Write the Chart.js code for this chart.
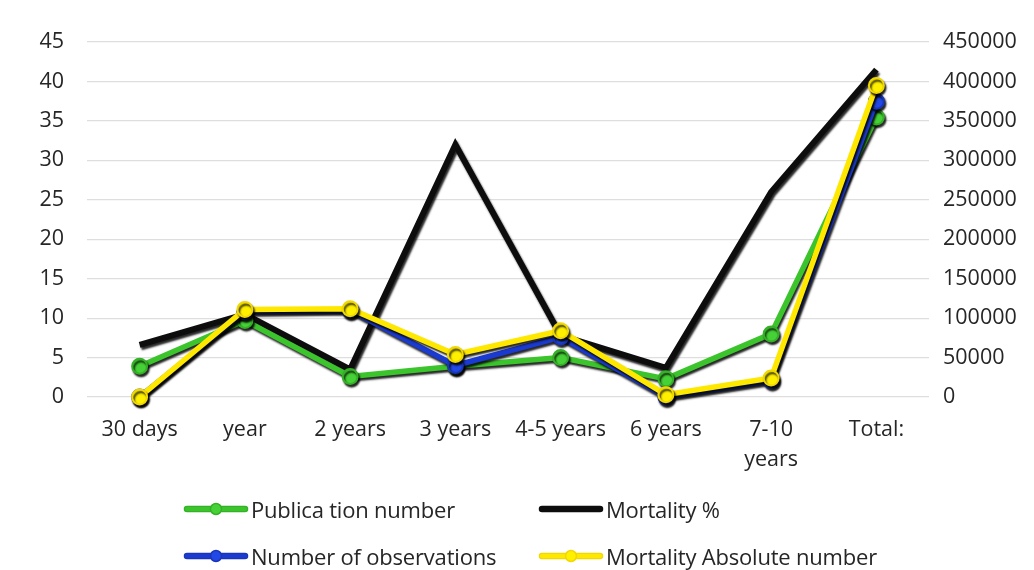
<!DOCTYPE html>
<html>
<head>
<meta charset="utf-8">
<script src="https://cdn.jsdelivr.net/npm/chart.js@4/dist/chart.umd.min.js"></script>
<style>
  html, body { margin: 0; padding: 0; background: #ffffff; }
  #wrap { position: relative; width: 1034px; height: 570px; }
  #c { position: absolute; left: 0; top: 0; }
  .leg { position: absolute; height: 30px; display: flex; align-items: center;
         font-family: "Open Sans", sans-serif; font-size: 22px; color: #262626; white-space: nowrap; letter-spacing: -0.2px; }
  .leg svg { margin-right: 2px; }
</style>
</head>
<body>
<div id="wrap">
  <canvas id="c" width="1034" height="570"></canvas>
  <div id="legend"></div>
</div>
<script>
// Follow-up periods
const categories = ['30 days', 'year', '2 years', '3 years', '4-5 years', '6 years', ['7-10', 'years'], 'Total:'];

// Left axis series
const publicationNumber = [3.9, 9.7, 2.6, 3.9, 5.0, 2.3, 8.0, 35.5];
const mortalityPercent  = [6.6, 10.5, 3.5, 32, 7.8, 3.7, 26, 41.5];

// Right axis series
const observations      = [0, 108000, 110000, 40000, 76000, 0, 21000, 375000];
const mortalityAbsolute = [0, 111000, 112000, 54000, 84000, 3000, 24000, 395000];

// Axis ticks
const leftTicks  = [0, 5, 10, 15, 20, 25, 30, 35, 40, 45];
const rightTicks = [0, 50000, 100000, 150000, 200000, 250000, 300000, 350000, 400000, 450000];

const FONT = { family: '"Open Sans", sans-serif', size: 21.5, lineHeight: 1.4 };
const TEXT = '#262626';

// Soft dark drop shadow under each series line
const shadowPlugin = {
  id: 'lineShadow',
  beforeDatasetDraw(chart) {
    const ctx = chart.ctx;
    ctx.save();
    ctx.shadowColor = 'rgba(0,0,0,0.85)';
    ctx.shadowOffsetX = 1.5;
    ctx.shadowOffsetY = 2.5;
    ctx.shadowBlur = 2;
  },
  afterDatasetDraw(chart) {
    chart.ctx.restore();
  }
};

const series = [
  { label: 'Mortality %', data: mortalityPercent, axis: 'y', line: '#0d0d0d', fill: '#0d0d0d', edge: '#0d0d0d', marker: false, width: 6, order: 4 },
  { label: 'Publica tion number', data: publicationNumber, axis: 'y', line: '#3cc42c', fill: '#46d236', edge: '#34b126', marker: true, width: 5.5, order: 3 },
  { label: 'Number of observations', data: observations, axis: 'y1', line: '#1b3bd0', fill: '#2248e6', edge: '#1a36b8', marker: true, width: 5.5, order: 2 },
  { label: 'Mortality Absolute number', data: mortalityAbsolute, axis: 'y1', line: '#ffe800', fill: '#fff000', edge: '#f0d800', marker: true, width: 5.5, order: 1 }
];

new Chart(document.getElementById('c'), {
  type: 'line',
  data: {
    labels: categories,
    datasets: series.map(s => ({
      label: s.label,
      data: s.data,
      yAxisID: s.axis,
      borderColor: s.line,
      backgroundColor: s.fill,
      borderWidth: s.width,
      pointRadius: s.marker ? 7.5 : 0,
      pointBorderWidth: 2,
      pointBorderColor: s.edge,
      pointBackgroundColor: s.fill,
      tension: 0,
      clip: false,
      order: s.order
    }))
  },
  options: {
    responsive: false,
    animation: false,
    events: [],
    layout: { padding: { top: 42, left: 0, right: 0, bottom: 70 } },
    plugins: { legend: { display: false }, tooltip: { enabled: false } },
    scales: {
      x: {
        offset: true,
        grid: { display: false },
        border: { display: false },
        ticks: { font: FONT, color: TEXT, padding: 10, maxRotation: 0, autoSkip: false },
        afterFit(scale) { scale.height = 103; }
      },
      y: {
        position: 'left',
        min: 0, max: 45,
        afterBuildTicks(scale) { scale.ticks = leftTicks.map(v => ({ value: v })); },
        grid: { color: '#dedede', lineWidth: 1.2, drawTicks: false },
        border: { display: false },
        ticks: { font: FONT, color: TEXT, padding: 23 },
        afterFit(scale) { scale.width = 87; }
      },
      y1: {
        position: 'right',
        min: 0, max: 450000,
        afterBuildTicks(scale) { scale.ticks = rightTicks.map(v => ({ value: v })); },
        grid: { drawOnChartArea: false, drawTicks: false },
        border: { display: false },
        ticks: { font: FONT, color: TEXT, padding: 14, callback: v => String(v) },
        afterFit(scale) { scale.width = 105; }
      }
    }
  },
  plugins: [shadowPlugin]
});

// Legend: two rows of line-and-marker swatches
const legendSpots = [
  { idx: 1, x: 183, y: 494 },
  { idx: 0, x: 538, y: 494 },
  { idx: 2, x: 183, y: 541 },
  { idx: 3, x: 538, y: 541 }
];
const legendBox = document.getElementById('legend');
legendSpots.forEach(p => {
  const s = series[p.idx];
  const el = document.createElement('div');
  el.className = 'leg';
  el.style.left = p.x + 'px';
  el.style.top = p.y + 'px';
  const dot = s.marker
    ? `<circle cx="33" cy="15" r="5.5" fill="${s.fill}" stroke="${s.edge}" stroke-width="1.5"/>`
    : '';
  el.innerHTML =
    `<svg width="66" height="30"><line x1="4" y1="15" x2="62" y2="15" stroke="${s.edge}" stroke-width="6.5" stroke-linecap="round"/>` +
    `<line x1="4" y1="15" x2="62" y2="15" stroke="${s.line}" stroke-width="4" stroke-linecap="round"/>${dot}</svg>` +
    `<span>${s.label}</span>`;
  legendBox.appendChild(el);
});
</script>
</body>
</html>
